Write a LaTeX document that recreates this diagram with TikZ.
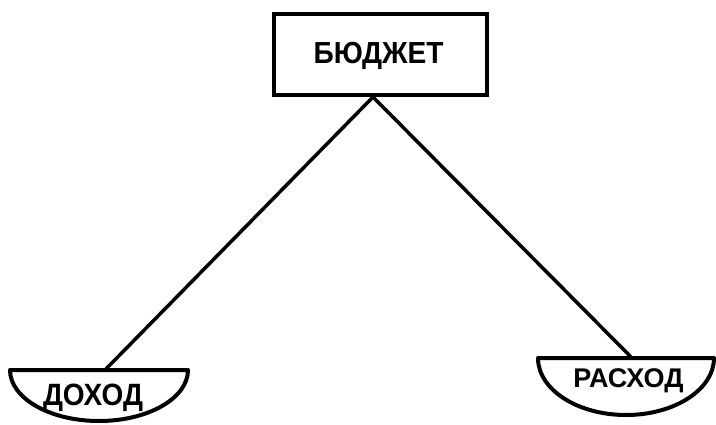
\documentclass[tikz,border=0pt]{standalone}
\usepackage{fontspec}
\setmainfont{Liberation Sans}
\begin{document}
\begin{tikzpicture}[x=1pt,y=-1pt,
  box/.style={draw=black, line width=4pt, minimum width=213pt, minimum height=81.5pt, inner sep=0pt},
  bowl/.style={draw=black, line width=4pt, line join=round},
  link/.style={draw=black, line width=3.5pt},
  lbl/.style={inner sep=0pt, anchor=base}]
\useasboundingbox[fill=white] (0,0) rectangle (716,424);
\node[box] (b) at (380.5,54.25) {};
\node[lbl] (bt) at (378.5,63) {\scalebox{0.97}[1.05]{\fontsize{29}{31}\selectfont\bfseries БЮДЖЕТ}};
% left bowl
\draw[bowl] (10,370) -- (188,370) arc[start angle=0, end angle=-180, x radius=89pt, y radius=51pt] -- cycle;
\coordinate (lt) at (105,370);
\node[lbl] (d) at (93,405) {\scalebox{1}[1.1]{\fontsize{28}{30}\selectfont\bfseries ДОХОД}};
% right bowl
\draw[bowl] (538,358) -- (714,358) arc[start angle=0, end angle=-180, x radius=88pt, y radius=57pt] -- cycle;
\coordinate (rt) at (632,358);
\node[lbl] (r) at (628.5,387) {\fontsize{27}{29}\selectfont\bfseries РАСХОД};
\draw[link] ([xshift=-7.5pt]b.south) -- (lt);
\draw[link] ([xshift=-7.5pt]b.south) -- (rt);
\end{tikzpicture}
\end{document}
